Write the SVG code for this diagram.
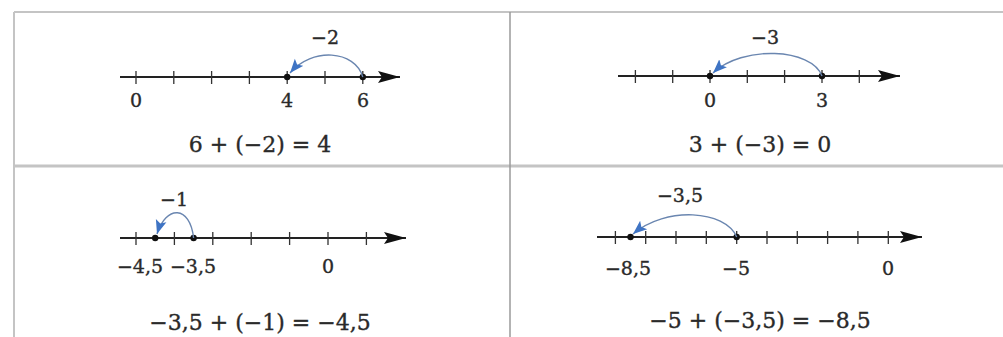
<svg xmlns="http://www.w3.org/2000/svg" width="1003" height="337" viewBox="0 0 1003 337">
<style>
text{font-family:"DejaVu Serif","Liberation Serif",serif;fill:#2a2a2a;stroke:#2a2a2a;stroke-width:0.35;text-anchor:middle}
.lab{font-size:19px}
.eq{font-size:22px}
.axis{stroke:#222;stroke-width:1.8;fill:none}
.tick{stroke:#333;stroke-width:1.3}
.dot{fill:#111}
.arc{stroke:#6a86b0;stroke-width:1.4;fill:none}
.frame{stroke:#c4c4c4;stroke-width:2;fill:none}
.vdiv{stroke:#9a9a9a;stroke-width:1.5;fill:none}
</style>
<defs>
<marker id="axisArrow" markerUnits="userSpaceOnUse" markerWidth="24" markerHeight="12" refX="22" refY="6" orient="auto">
<path d="M0,0 L22,6 L0,12 L4,6 Z" fill="#111"/>
</marker>
<marker id="blueArrow" markerUnits="userSpaceOnUse" markerWidth="16" markerHeight="12" refX="14" refY="6" orient="auto">
<path d="M0,0.5 L14,6 L0,11.5 L3,6 Z" fill="#3f74c4"/>
</marker>
</defs>
<rect width="1003" height="337" fill="#ffffff"/>
<g id="frame">
<line class="frame" x1="14" y1="12" x2="1003" y2="12"/>
<line class="frame" x1="14" y1="12" x2="14" y2="337"/>
<line class="frame" x1="14" y1="166" x2="1003" y2="166" style="stroke-width:3"/>
<line class="vdiv" x1="510" y1="12" x2="510" y2="337"/>
</g>
<g id="panel1">
<line class="axis" x1="120" y1="77" x2="400" y2="77" marker-end="url(#axisArrow)"/>
<path class="tick" d="M136,71V84M173.8,71V84M211.6,71V84M249.4,71V84M287.2,71V84M325,71V84M362.8,71V84"/>
<circle class="dot" cx="287.2" cy="77" r="3.2"/>
<circle class="dot" cx="362.8" cy="77" r="3.2"/>
<text class="lab" x="325" y="44">−2</text>
<text class="lab" x="136" y="107">0</text>
<text class="lab" x="287" y="107">4</text>
<text class="lab" x="363" y="107">6</text>
<text class="eq" x="260" y="152">6 + (−2) = 4</text>
</g>
<g id="panel2">
<line class="axis" x1="618" y1="76" x2="900" y2="76" marker-end="url(#axisArrow)"/>
<path class="tick" d="M635.4,70V83M672.7,70V83M710,70V83M747.3,70V83M784.6,70V83M822,70V83M859.3,70V83"/>
<circle class="dot" cx="710" cy="76" r="3.2"/>
<circle class="dot" cx="822" cy="76" r="3.2"/>
<text class="lab" x="765" y="44">−3</text>
<text class="lab" x="710" y="107">0</text>
<text class="lab" x="822" y="107">3</text>
<text class="eq" x="760" y="152">3 + (−3) = 0</text>
</g>
<g id="panel3">
<line class="axis" x1="120" y1="238" x2="406" y2="238" marker-end="url(#axisArrow)"/>
<path class="tick" d="M136,232V245M174.4,232V245M212.8,232V245M251.2,232V245M289.6,232V245M328,232V245M366.4,232V245"/>
<circle class="dot" cx="155.2" cy="238" r="3.2"/>
<circle class="dot" cx="193.6" cy="238" r="3.2"/>
<text class="lab" x="174" y="206">−1</text>
<text class="lab" x="140" y="273">−4,5</text>
<text class="lab" x="193" y="273">−3,5</text>
<text class="lab" x="328" y="273">0</text>
<text class="eq" x="260" y="330">−3,5 + (−1) = −4,5</text>
</g>
<g id="panel4">
<line class="axis" x1="597" y1="237" x2="922" y2="237" marker-end="url(#axisArrow)"/>
<path class="tick" d="M615.4,231V244M645.7,231V244M676,231V244M706.3,231V244M736.7,231V244M767,231V244M797.3,231V244M827.6,231V244M857.9,231V244M888.3,231V244"/>
<circle class="dot" cx="630.5" cy="237" r="3.2"/>
<circle class="dot" cx="736.7" cy="237" r="3.2"/>
<text class="lab" x="680" y="202">−3,5</text>
<text class="lab" x="628" y="275">−8,5</text>
<text class="lab" x="736" y="275">−5</text>
<text class="lab" x="888" y="275">0</text>
<text class="eq" x="760" y="328">−5 + (−3,5) = −8,5</text>
</g>
<g id="connectors">
<path class="arc" d="M362.8,77 C355,50 312,47 290,73" marker-end="url(#blueArrow)"/>
<path class="arc" d="M822,76 C812,48 742,45 713,73" marker-end="url(#blueArrow)"/>
<path class="arc" d="M193.6,238 C190,205 166,205 157,234" marker-end="url(#blueArrow)"/>
<path class="arc" d="M736.7,237 C725,210 666,206 633,234" marker-end="url(#blueArrow)"/>
</g>
</svg>
